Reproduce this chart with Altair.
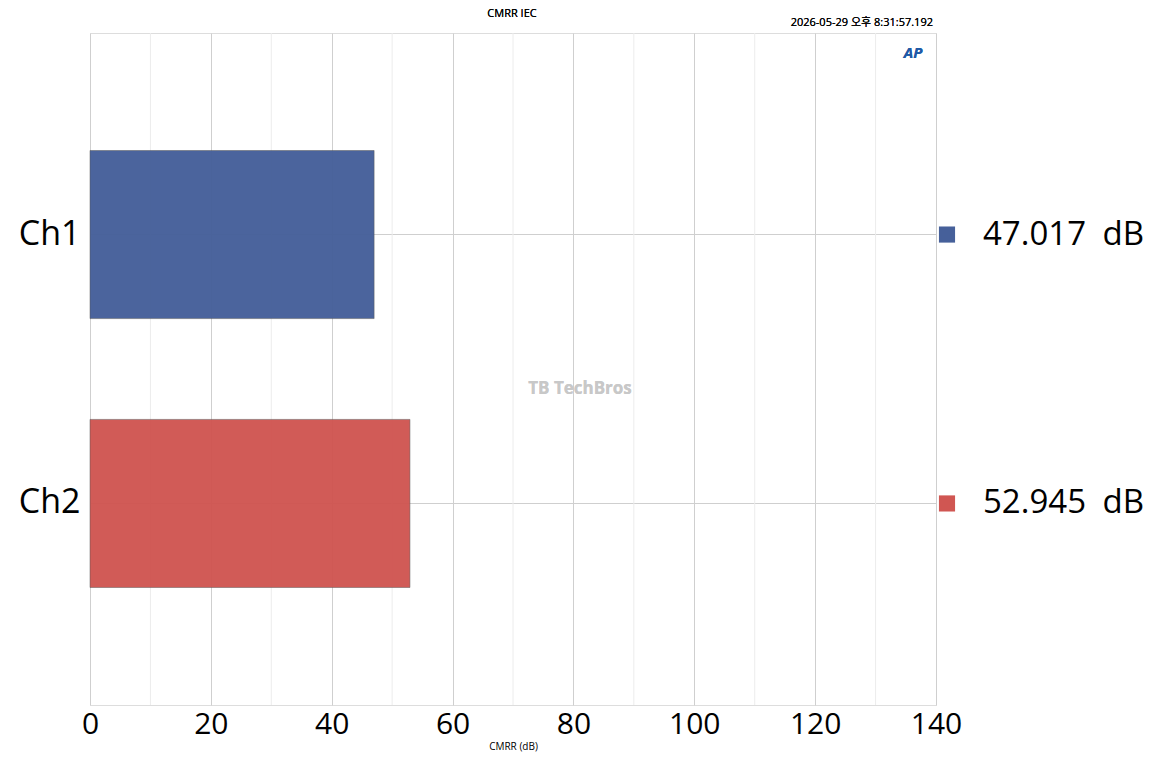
import altair as alt
import pandas as pd

channels = ["Ch1", "Ch2"]
cmrr = [47.017, 52.945]
colors = ["#46609a", "#d05652"]
major_ticks = [0, 20, 40, 60, 80, 100, 120, 140]
minor_ticks = [10, 30, 50, 70, 90, 110, 130]

df = pd.DataFrame({"ch": channels, "v": cmrr,
                   "lab": [f"{v:.3f}\u2002dB" for v in cmrr]})
minor_df = pd.DataFrame({"m": minor_ticks})

yscale = alt.Scale(domain=channels, paddingInner=0.375, paddingOuter=0.437)
xscale = alt.Scale(domain=[0, 140], nice=False)
color = alt.Color("ch:N", scale=alt.Scale(domain=channels, range=colors), legend=None)
font = "Open Sans, Noto Sans CJK KR"

minor = alt.Chart(minor_df).mark_rule(color="#ececec", strokeWidth=1).encode(
    x=alt.X("m:Q", scale=xscale)
)

bars = alt.Chart(df).mark_bar(opacity=0.97, stroke="#555", strokeWidth=0.5).encode(
    x=alt.X("v:Q", scale=xscale, title="CMRR (dB)",
            axis=alt.Axis(values=major_ticks, labelFontSize=30, labelColor="#000", labelFlush=False,
                          titleFontSize=10, titleFontWeight="normal", titlePadding=2,
                          gridColor="#cfcfcf", ticks=False, domain=False, labelPadding=4)),
    y=alt.Y("ch:N", scale=yscale, title=None,
            axis=alt.Axis(labelFontSize=34, labelColor="#000", ticks=False, domain=False,
                          bandPosition=0.5, gridColor="#cfcfcf", grid=True, labelPadding=10)),
    color=color,
)

squares = alt.Chart(df).mark_square(size=260, opacity=1).encode(
    x=alt.value(857),
    y=alt.Y("ch:N", scale=yscale, bandPosition=0.5),
    color=color,
)

labels = alt.Chart(df).mark_text(align="left", baseline="middle", fontSize=33, color="#000").encode(
    x=alt.value(893),
    y=alt.Y("ch:N", scale=yscale, bandPosition=0.5),
    text="lab:N",
)

title = alt.Chart(df).mark_text(fontSize=11, color="#000", baseline="top").encode(
    x=alt.value(422), y=alt.value(-25), text=alt.value("CMRR IEC")
)
stamp = alt.Chart(df).mark_text(fontSize=11, color="#000", align="right", baseline="bottom").encode(
    x=alt.value(843), y=alt.value(-5), text=alt.value("2026-05-29 오후 8:31:57.192")
)
logo = alt.Chart(df).mark_text(fontSize=15, fontWeight="bold", fontStyle="italic", color="#1f5aa6").encode(
    x=alt.value(823), y=alt.value(20), text=alt.value("AP")
)
watermark = alt.Chart(df).mark_text(fontSize=17, color="#c8c8c8", fontWeight="bold").encode(
    x=alt.value(490), y=alt.value(356), text=alt.value("TB TechBros")
)

chart = alt.layer(minor, bars, squares, labels, title, stamp, logo, watermark).properties(
    width=846, height=672,
    autosize=alt.AutoSizeParams(type="none"),
    padding={"left": 82, "top": 25, "right": 215, "bottom": 55},
).configure_view(stroke="#777", strokeWidth=1).configure(font=font)

chart.save("out.html", embed_options={"renderer": "svg", "actions": False})
